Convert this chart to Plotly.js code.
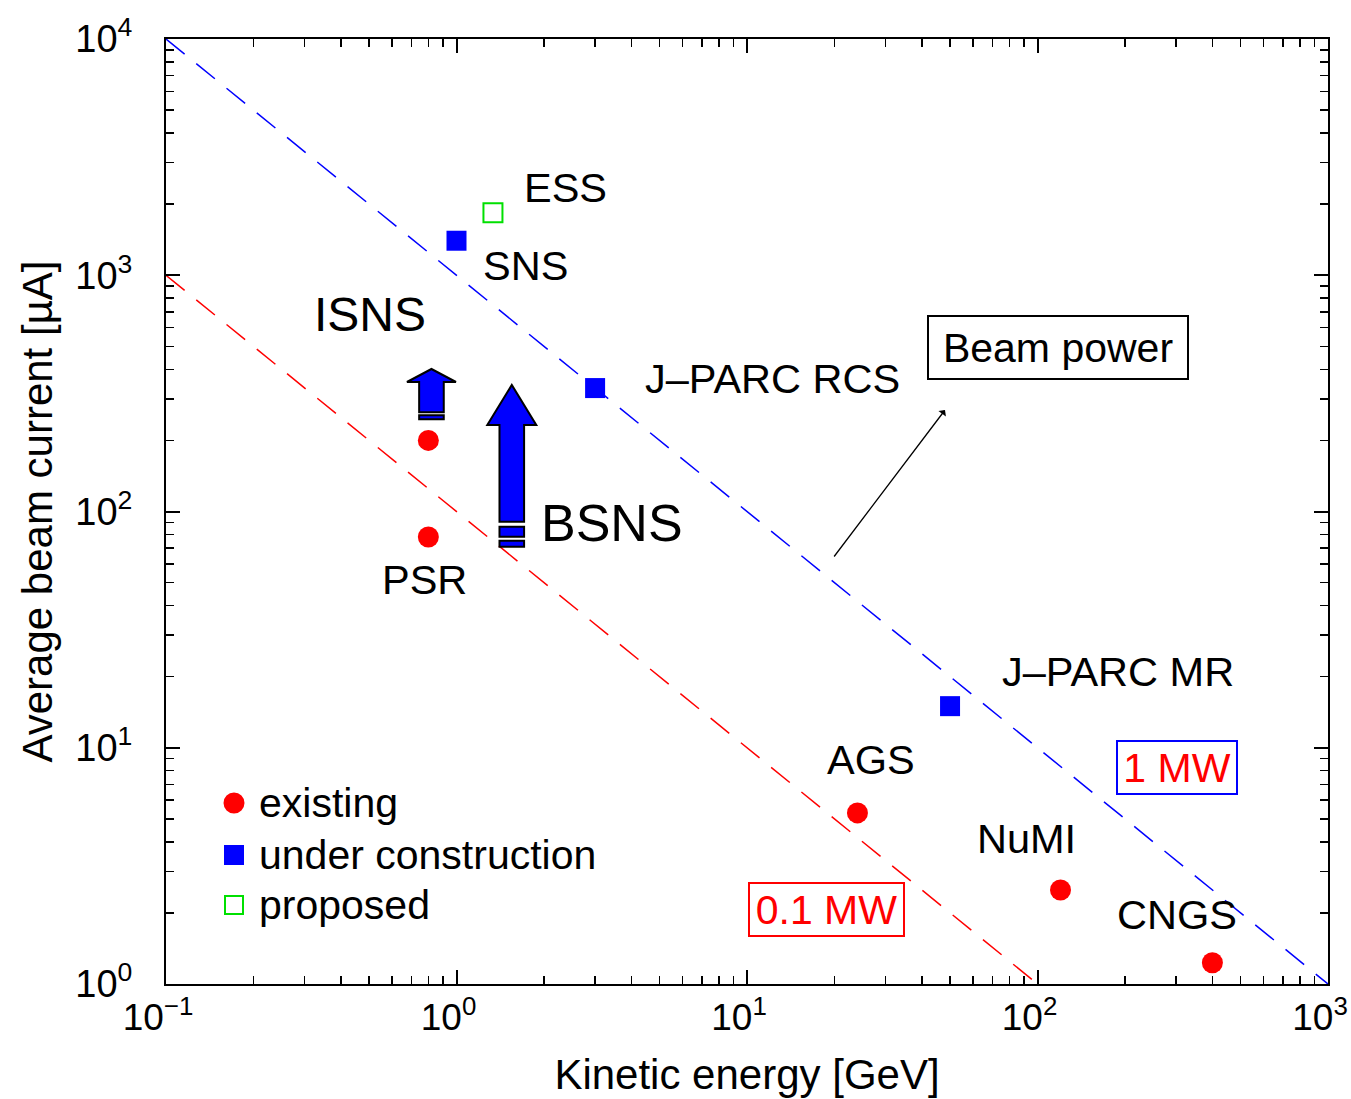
<!DOCTYPE html>
<html><head><meta charset="utf-8">
<script src="https://cdn.plot.ly/plotly-3.0.1.min.js"></script>
<style>html,body{margin:0;padding:0;background:#fff}</style>
</head><body><div id="chart" style="width:1351px;height:1099px"></div>
<script>
// ---------------- data ----------------
const existingNames = ['PSR', 'ISIS', 'AGS', 'NuMI', 'CNGS'];
const existingEnergy = [0.8, 0.8, 24, 120, 400];          // GeV
const existingCurrent = [78, 200, 5.3, 2.5, 1.23];        // uA

const constructionNames = ['SNS', 'J\u2013PARC RCS', 'J\u2013PARC MR'];
const constructionEnergy = [1.0, 3.0, 50];
const constructionCurrent = [1400, 333, 15];

const proposedNames = ['ESS'];
const proposedEnergy = [1.335];
const proposedCurrent = [1840];

// constant beam-power lines (end points)
const line1MWEnergy = [0.1, 1000];
const line1MWCurrent = [10000, 1];
const line01MWEnergy = [0.1, 100];
const line01MWCurrent = [1000, 1];

// upgrade arrows
const upgradeNames = ['ISNS', 'BSNS'];
const upgradeEnergy = [0.82, 1.55];
const upgradeFrom = [246, 71];
const upgradeTo = [401, 343];

// legend entries
const legendLabels = ['existing', 'under construction', 'proposed'];

// ticks
const xTickVals = [0.1, 1, 10, 100, 1000];
const xTickText = ['10<sup>\u22121</sup>', '10<sup>0</sup>', '10<sup>1</sup>', '10<sup>2</sup>', '10<sup>3</sup>'];
const yTickVals = [1, 10, 100, 1000, 10000];
const yTickText = ['10<sup>0</sup>', '10<sup>1</sup>', '10<sup>2</sup>', '10<sup>3</sup>', '10<sup>4</sup>'];

// ---------------- layout constants ----------------
const W = 1351, H = 1099;
const M = {l: 166, r: 23, t: 39, b: 115};
const plotW = W - M.l - M.r, plotH = H - M.t - M.b;
const pxPerDecadeY = plotH / 4;
const FONT = '"Liberation Sans", Arial, Helvetica, sans-serif';
const RED = '#ff0000', BLUE = '#0000ff', GREEN = '#00e000';

// label offsets (pixels) relative to their points
const labelOffsets = {
  'PSR': [-4, -43], 'AGS': [14, 53], 'NuMI': [-34, 51], 'CNGS': [-35, 48],
  'SNS': [69, -25], 'J\u2013PARC RCS': [177, 10], 'J\u2013PARC MR': [168, 35],
  'ESS': [73, 25]
};
const arrowStyles = {
  'ISNS': {headH: 13, bodyBottom: 7, bands: [[0, 4]], label: {dx: -61, dy: 55, anchor: 'to', size: 48}},
  'BSNS': {headH: 40, bodyBottom: 25, bands: [[0, 6], [10, 20]], label: {dx: 100, dy: 24, anchor: 'from', size: 52}}
};
const shaftHalf = 12.3, headHalf = 24.5;

const lg = Math.log10;

const traces = [
  {x: line1MWEnergy, y: line1MWCurrent, mode: 'lines', showlegend: false, hoverinfo: 'skip',
   line: {color: BLUE, width: 1.5, dash: '24px,15px'}},
  {x: line01MWEnergy, y: line01MWCurrent, mode: 'lines', showlegend: false, hoverinfo: 'skip',
   line: {color: RED, width: 1.5, dash: '24px,15px'}},
  {x: existingEnergy, y: existingCurrent, text: existingNames, mode: 'markers', name: legendLabels[0], showlegend: false,
   marker: {symbol: 'circle', size: 21, color: RED}},
  {x: constructionEnergy, y: constructionCurrent, text: constructionNames, mode: 'markers', name: legendLabels[1], showlegend: false,
   marker: {symbol: 'square', size: 20, color: BLUE}},
  {x: proposedEnergy, y: proposedCurrent, text: proposedNames, mode: 'markers', name: legendLabels[2], showlegend: false,
   marker: {symbol: 'square-open', size: 19, color: GREEN, line: {width: 2, color: GREEN}}}
];

const annotations = [];
function addPointLabels(names, xs, ys) {
  names.forEach((n, i) => {
    const off = labelOffsets[n];
    if (!off) return;
    annotations.push({x: lg(xs[i]), y: lg(ys[i]), xref: 'x', yref: 'y', text: n, showarrow: false,
      xshift: off[0], yshift: off[1], xanchor: 'center', yanchor: 'middle',
      font: {family: FONT, size: 41.5, color: '#000'}});
  });
}
addPointLabels(existingNames, existingEnergy, existingCurrent);
addPointLabels(constructionNames, constructionEnergy, constructionCurrent);
addPointLabels(proposedNames, proposedEnergy, proposedCurrent);

const shapes = [];
upgradeNames.forEach((n, i) => {
  const st = arrowStyles[n];
  const L = lg(upgradeTo[i] / upgradeFrom[i]) * pxPerDecadeY;
  const b = st.bodyBottom, hb = L - st.headH;
  const common = {type: 'path', xref: 'x', yref: 'y', xsizemode: 'pixel', ysizemode: 'pixel',
    xanchor: upgradeEnergy[i], yanchor: upgradeFrom[i], fillcolor: BLUE, line: {color: '#000', width: 2}};
  shapes.push(Object.assign({}, common, {
    path: `M${-shaftHalf},${b} L${shaftHalf},${b} L${shaftHalf},${hb} L${headHalf},${hb} L0,${L} L${-headHalf},${hb} L${-shaftHalf},${hb} Z`
  }));
  st.bands.forEach(bd => {
    shapes.push(Object.assign({}, common, {
      path: `M${-shaftHalf},${bd[0]} L${shaftHalf},${bd[0]} L${shaftHalf},${bd[1]} L${-shaftHalf},${bd[1]} Z`
    }));
  });
  const yv = st.label.anchor === 'to' ? upgradeTo[i] : upgradeFrom[i];
  annotations.push({x: lg(upgradeEnergy[i]), y: lg(yv), xref: 'x', yref: 'y', text: n, showarrow: false,
    xshift: st.label.dx, yshift: st.label.dy, xanchor: 'center', yanchor: 'middle',
    font: {family: FONT, size: st.label.size, color: '#000'}});
});

// paper helpers for free-floating boxes
const px = v => (v - M.l) / plotW;
const py = v => (H - M.b - v) / plotH;

// manual legend
const legendRowsY = [803, 855, 905];
const legendSymX = 234, legendTextX = 257;
shapes.push({type: 'circle', xref: 'paper', yref: 'paper', x0: px(legendSymX - 10.5), x1: px(legendSymX + 10.5),
  y0: py(legendRowsY[0] + 10.5), y1: py(legendRowsY[0] - 10.5), fillcolor: RED, line: {width: 0}});
shapes.push({type: 'rect', xref: 'paper', yref: 'paper', x0: px(legendSymX - 10), x1: px(legendSymX + 10),
  y0: py(legendRowsY[1] + 10), y1: py(legendRowsY[1] - 10), fillcolor: BLUE, line: {width: 0}});
shapes.push({type: 'rect', xref: 'paper', yref: 'paper', x0: px(legendSymX - 9), x1: px(legendSymX + 9),
  y0: py(legendRowsY[2] + 9), y1: py(legendRowsY[2] - 9), fillcolor: 'rgba(0,0,0,0)', line: {width: 2, color: GREEN}});
legendLabels.forEach((t, i) => {
  annotations.push({xref: 'paper', yref: 'paper', x: px(legendTextX), y: py(legendRowsY[i]), text: t, showarrow: false,
    xanchor: 'left', yanchor: 'middle', font: {family: FONT, size: 41, color: '#000'}});
});

annotations.push({xref: 'paper', yref: 'paper', x: px(1058), y: py(347.5), text: 'Beam power', showarrow: false,
  xanchor: 'center', yanchor: 'middle', width: 258, height: 61, borderpad: 0, borderwidth: 2, bordercolor: '#000',
  font: {family: FONT, size: 41, color: '#000'}});
annotations.push({xref: 'paper', yref: 'paper', x: px(945), y: py(410), text: '', showarrow: true,
  axref: 'pixel', ayref: 'pixel', ax: -112, ay: 148, arrowhead: 1, arrowsize: 1.2, arrowwidth: 1.3, arrowcolor: '#000'});
annotations.push({xref: 'paper', yref: 'paper', x: px(1177), y: py(767.5), text: '1 MW', showarrow: false,
  xanchor: 'center', yanchor: 'middle', width: 118, height: 51, borderpad: 0, borderwidth: 2, bordercolor: BLUE,
  font: {family: FONT, size: 41, color: RED}});
annotations.push({xref: 'paper', yref: 'paper', x: px(826.5), y: py(909.5), text: '0.1 MW', showarrow: false,
  xanchor: 'center', yanchor: 'middle', width: 153, height: 51, borderpad: 0, borderwidth: 2, bordercolor: RED,
  font: {family: FONT, size: 41, color: RED}});

const axisCommon = {
  type: 'log', showgrid: false, zeroline: false, showline: true, linecolor: '#000', linewidth: 2,
  mirror: 'allticks', ticks: 'inside', ticklen: 14, tickwidth: 2, tickcolor: '#000',
  ticklabeloverflow: 'allow',
  tickfont: {family: FONT, size: 38, color: '#000'},
  minor: {ticks: 'inside', ticklen: 8, tickwidth: 1.5, tickcolor: '#000', showgrid: false, dtick: 'D1'}
};

const layout = {
  width: W, height: H, margin: M, paper_bgcolor: '#fff', plot_bgcolor: '#fff',
  font: {family: FONT, color: '#000'},
  xaxis: Object.assign({}, axisCommon, {range: [-1, 3], tickmode: 'array', tickvals: xTickVals, ticktext: xTickText,
    ticklabelshift: -8, tickfont: {family: FONT, size: 37, color: '#000'},
    title: {text: 'Kinetic energy [GeV]', font: {family: FONT, size: 42, color: '#000'}, standoff: 22}}),
  yaxis: Object.assign({}, axisCommon, {range: [0, 4], tickmode: 'array', tickvals: yTickVals, ticktext: yTickText,
    ticklabelstandoff: 24,
    title: {text: 'Average beam current [\u00b5A]', font: {family: FONT, size: 42, color: '#000'}, standoff: 10}}),
  showlegend: false,
  annotations: annotations,
  shapes: shapes
};

Plotly.newPlot('chart', traces, layout, {displayModeBar: false, staticPlot: true});
</script>
</body></html>
